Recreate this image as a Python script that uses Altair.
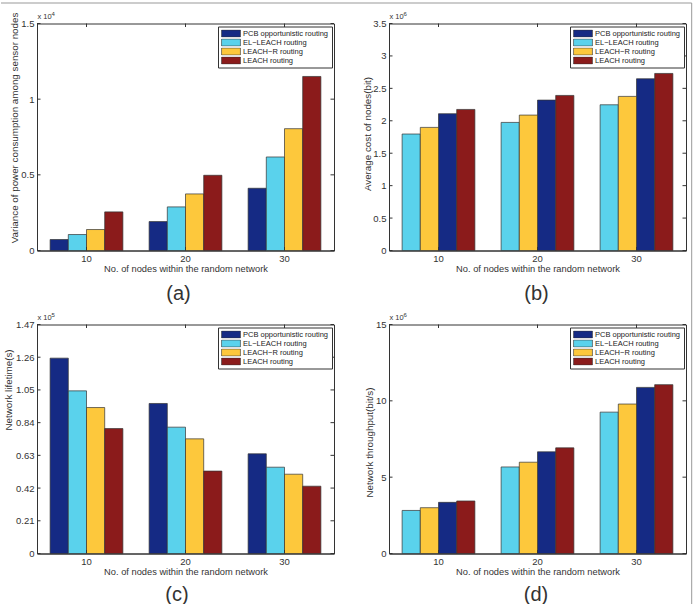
import altair as alt
import pandas as pd

nodes = ["10", "20", "30"]
methods = ["PCB opportunistic routing", "EL\u2212LEACH routing", "LEACH\u2212R routing", "LEACH routing"]
colors = ["#152a84", "#5ad2ec", "#fdc83c", "#8b1b1b"]

# (a) Variance of power consumption among sensor nodes
a_pcb = [726, 1913, 4113]
a_el = [1056, 2881, 6180]
a_lr = [1386, 3739, 8050]
a_leach = [2551, 4970, 11500]

# (b) Average cost of nodes (bit)
b_pcb = [2.109e6, 2.319e6, 2.648e6]
b_el = [1.796e6, 1.975e6, 2.247e6]
b_lr = [1.898e6, 2.088e6, 2.376e6]
b_leach = [2.175e6, 2.391e6, 2.730e6]

# (c) Network lifetime (s)
c_pcb = [1.254e5, 0.963e5, 0.640e5]
c_el = [1.044e5, 0.811e5, 0.554e5]
c_lr = [0.937e5, 0.736e5, 0.509e5]
c_leach = [0.802e5, 0.529e5, 0.432e5]

# (d) Network throughput (bit/s)
d_pcb = [3.35e6, 6.66e6, 10.88e6]
d_el = [2.82e6, 5.67e6, 9.26e6]
d_lr = [3.00e6, 5.98e6, 9.79e6]
d_leach = [3.44e6, 6.92e6, 11.06e6]

a_ticks = [0, 5000, 10000, 15000]
b_ticks = [0, 500000, 1000000, 1500000, 2000000, 2500000, 3000000, 3500000]
c_ticks = [0, 21000, 42000, 63000, 84000, 105000, 126000, 147000]
d_ticks = [0, 5000000, 10000000, 15000000]

order_ac = methods
order_bd = [methods[1], methods[2], methods[0], methods[3]]

FONT = "Liberation Sans"
INK = "#333333"
W = 297
XTITLE = "No. of nodes within the random network"


def make_df(series):
    rows = []
    for m, vals in zip(methods, series):
        for n, v in zip(nodes, vals):
            rows.append({"nodes": n, "method": m, "value": v})
    return pd.DataFrame(rows)


def txt(s, size, align="left", baseline="alphabetic"):
    return alt.Chart(pd.DataFrame({"s": [s]})).mark_text(
        align=align, baseline=baseline, fontSize=size, font=FONT, color=INK)


def panel(series, order, ymax, yticks, label_expr, ytitle, title_x, title_y,
          exp, letter, letter_x, H, extra=None):
    df = make_df(series)
    x = alt.X("nodes:O", sort=nodes,
              scale=alt.Scale(paddingInner=0.265, paddingOuter=0.1325),
              axis=alt.Axis(title=XTITLE, labelAngle=0, ticks=False, labelPadding=3,
                            titlePadding=1, labelFontSize=9.5, titleFontSize=9.3))
    y = alt.Y("value:Q", scale=alt.Scale(domain=[0, ymax], nice=False, zero=True),
              axis=alt.Axis(values=yticks, labelExpr=label_expr, ticks=False,
                            title=ytitle, titleX=title_x, titleY=title_y, titleAngle=270,
                            titleAlign="center", titleBaseline="middle", labelPadding=3,
                            labelFontSize=9.5, titleFontSize=9.8))
    bars = alt.Chart(df).mark_bar(stroke=INK, strokeWidth=0.7).encode(
        x=x,
        xOffset=alt.XOffset("method:N", sort=order,
                            scale=alt.Scale(paddingInner=0, paddingOuter=0)),
        y=y,
        color=alt.Color("method:N", scale=alt.Scale(domain=methods, range=colors),
                        legend=alt.Legend(title=None, orient="top-right", offset=2.5,
                                          padding=3, strokeColor=INK, fillColor="white",
                                          labelFont=FONT, labelFontSize=7.5, labelColor="#222",
                                          symbolType="M-2.7,-1H2.7V1H-2.7Z", symbolSize=49,
                                          symbolStrokeColor=INK, symbolStrokeWidth=0.6,
                                          rowPadding=1, clipHeight=8, labelOffset=8,
                                          symbolOffset=6, labelLimit=200)),
    )
    tdf = pd.DataFrame({"value": yticks})
    lt = alt.Chart(tdf).mark_rule(color=INK).encode(y=y, x=alt.value(0), x2=alt.value(3.5))
    rt = alt.Chart(tdf).mark_rule(color=INK).encode(y=y, x=alt.value(W - 3.5), x2=alt.value(W))
    ndf = pd.DataFrame({"nodes": nodes})
    bt = alt.Chart(ndf).mark_rule(color=INK).encode(x=x, y=alt.value(H - 3.5), y2=alt.value(H))
    tt = alt.Chart(ndf).mark_rule(color=INK).encode(x=x, y=alt.value(0), y2=alt.value(3.5))
    ex1 = txt("x 10", 7.5).encode(text="s:N", x=alt.value(0.5), y=alt.value(-4.5))
    ex2 = txt(exp, 6).encode(text="s:N", x=alt.value(14.5), y=alt.value(-8))
    let = txt(letter, 20, align="center", baseline="middle").encode(
        text="s:N", x=alt.value(letter_x), y=alt.value(270.5))
    layers = [bars, lt, rt, bt, tt, ex1, ex2, let]
    if extra:
        layers += extra
    return alt.layer(*layers).properties(width=W, height=H)


frame_top = alt.Chart(pd.DataFrame({"k": [0]})).mark_rule(color="#999999", strokeWidth=1).encode(
    x=alt.value(-388), x2=alt.value(302.7), y=alt.value(-20.5))
frame_right = alt.Chart(pd.DataFrame({"k": [0]})).mark_rule(color="#999999", strokeWidth=1).encode(
    x=alt.value(302.7), y=alt.value(-20.5), y2=alt.value(582))

pa = panel([a_pcb, a_el, a_lr, a_leach], order_ac, 15000, a_ticks,
           "format(datum.value/10000, '~g')",
           "Variance of power consumption among sensor nodes", -23, 104, "4", "(a)", 141.5, 227)
pb = panel([b_pcb, b_el, b_lr, b_leach], order_bd, 3500000, b_ticks,
           "format(datum.value/1000000, '~g')",
           "Average cost of nodes(bit)", -22, 110, "6", "(b)", 147.5, 227,
           extra=[frame_top, frame_right])
pc = panel([c_pcb, c_el, c_lr, c_leach], order_ac, 147000, c_ticks,
           "datum.value == 0 ? '0' : format(datum.value/100000, '.2f')",
           "Network lifetime(s)", -29, 65, "5", "(c)", 140, 229)
pd_ = panel([d_pcb, d_el, d_lr, d_leach], order_bd, 15000000, d_ticks,
            "format(datum.value/1000000, '~g')",
            "Network throughput(bit/s)", -20, 117.5, "6", "(d)", 147, 229)

chart = alt.concat(pa, pb, pc, pd_, columns=2, spacing={"row": 74, "column": 55},
                   bounds="flush").resolve_scale(
    color="independent", xOffset="independent").properties(
    padding={"left": 0, "top": 1.5, "right": 0, "bottom": 0},
    background="white",
).configure_view(stroke=INK, strokeWidth=1).configure_axis(
    domainColor=INK, labelColor=INK, titleColor=INK, labelFont=FONT, titleFont=FONT,
    titleFontWeight="normal", grid=False,
)

chart.save("out.html", embed_options={"renderer": "svg", "actions": False})
